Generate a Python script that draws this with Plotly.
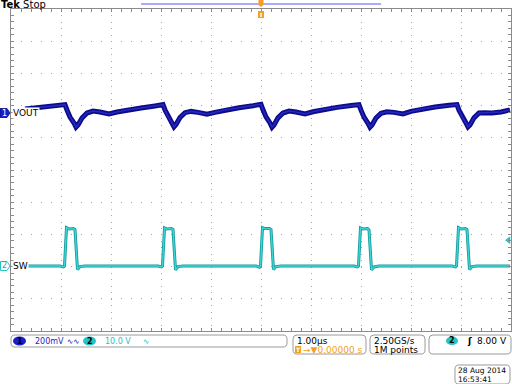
import plotly.graph_objects as go

W, H = 512, 384

# CH1  VOUT, 200 mV/div  (time in microseconds, value in mV)
vout_t_us = [
    -4.72, -4.40, -4.10,
    -3.92, -3.88, -3.82, -3.74, -3.70, -3.66, -3.58, -3.48, -3.36, -3.22, -3.04, -2.88, -2.68, -2.40, -2.12,
    -1.96, -1.92, -1.86, -1.78, -1.74, -1.70, -1.62, -1.52, -1.40, -1.26, -1.08, -0.92, -0.72, -0.44, -0.16,
    0.00, 0.04, 0.10, 0.18, 0.22, 0.26, 0.34, 0.44, 0.56, 0.70, 0.88, 1.04, 1.24, 1.52, 1.80,
    1.96, 2.00, 2.06, 2.14, 2.18, 2.22, 2.30, 2.40, 2.52, 2.66, 2.84, 3.00, 3.20, 3.48, 3.76,
    3.92, 3.96, 4.02, 4.10, 4.14, 4.18, 4.26, 4.36, 4.48, 4.62, 4.80, 4.98,
]
vout_mv = [
    25, 35, 44,
    52, 19, -25, -62, -88, -75, -31, 0, 12, 6, -6, 6, 19, 31, 44,
    52, 19, -22, -60, -86, -72, -28, 2, 10, 4, -8, 4, 19, 33, 45,
    54, 20, -24, -62, -88, -74, -30, 0, 12, 6, -6, 8, 22, 35, 46,
    52, 18, -26, -64, -88, -75, -31, -2, 8, 4, -6, 10, 24, 37, 48,
    52, 18, -24, -62, -86, -74, -30, 0, 2, 0, 6, 19,
]

# CH2  SW, 10 V/div (time in microseconds, value in V)
sw_t_us = [
    -4.72,
    -4.02, -3.95, -3.93, -3.89, -3.84, -3.75, -3.72, -3.67, -3.62, -3.52,
    -2.06, -1.99, -1.97, -1.93, -1.88, -1.79, -1.76, -1.71, -1.66, -1.56,
    -0.10, -0.03, -0.01, 0.03, 0.08, 0.17, 0.20, 0.25, 0.30, 0.40,
    1.86, 1.93, 1.95, 1.99, 2.04, 2.13, 2.16, 2.21, 2.26, 2.36,
    3.82, 3.89, 3.91, 3.95, 4.00, 4.09, 4.12, 4.17, 4.22, 4.32,
    4.98,
]
sw_v = [
    0.0,
    0.0, -0.3, 0.0, 11.9, 11.5, 11.6, 11.3, -1.1, -0.2, 0.0,
    0.0, -0.3, 0.0, 11.8, 11.5, 11.6, 11.3, -1.2, -0.2, 0.0,
    0.0, -0.4, 0.0, 11.9, 11.6, 11.6, 11.3, -1.1, -0.2, 0.0,
    0.0, -0.3, 0.0, 11.8, 11.5, 11.6, 11.2, -1.2, -0.3, 0.0,
    0.0, -0.3, 0.0, 11.9, 11.5, 11.6, 11.3, -1.1, -0.2, 0.0,
    0.0,
]

ch1_scale_mv = 200.0
ch2_scale_v = 10.0
ch1_offset_div = 1.77
ch2_offset_div = -2.98
trig_level_v = 8.0

ch1_label = "VOUT"
ch2_label = "SW"
ch1_status = "200mV"
ch2_status = "10.0 V"
timebase = "1.00µs"
trig_pos = "→▼0.00000 s"
sample_rate = "2.50GS/s"
record_len = "1M points"
trig_level_txt = "8.00 V"
date_txt = "28 Aug 2014"
time_txt = "16:53:41"

# ---------------- geometry ----------------
PX0, PX1, PY0, PY1 = 11, 511, 9, 331   # graticule box in pixels
x_range = [-5, 5]
y_range = [-5, 5]

def P(x, y):
    return f"{x / W:.5f},{1 - y / H:.5f}"

def xp(x):
    return x / W

def yp(y):
    return 1 - y / H

def div_to_px(d):
    return PY1 - (d - y_range[0]) / (y_range[1] - y_range[0]) * (PY1 - PY0)

def rrect(x0, y0, x1, y1, r):
    return (f"M{P(x0 + r, y0)} L{P(x1 - r, y0)} Q{P(x1, y0)} {P(x1, y0 + r)} "
            f"L{P(x1, y1 - r)} Q{P(x1, y1)} {P(x1 - r, y1)} L{P(x0 + r, y1)} "
            f"Q{P(x0, y1)} {P(x0, y1 - r)} L{P(x0, y0 + r)} Q{P(x0, y0)} {P(x0 + r, y0)} Z")

FONT = "DejaVu Sans"
GRID = "#a4a4a4"
FRAME = "#8a8a8a"
BLUE = "#1c1cc8"
CYAN = "#22c4c4"
ORANGE = "#f2a024"

fig = go.Figure()

vout_div = [ch1_offset_div + v / ch1_scale_mv for v in vout_mv]
sw_div = [ch2_offset_div + v / ch2_scale_v for v in sw_v]

fig.add_trace(go.Scatter(x=vout_t_us, y=vout_div, mode="lines",
                         line=dict(color="#0c0c8a", width=5), hoverinfo="skip"))
fig.add_trace(go.Scatter(x=vout_t_us, y=vout_div, mode="lines",
                         line=dict(color="#2626c0", width=1.6), hoverinfo="skip"))
fig.add_trace(go.Scatter(x=sw_t_us, y=sw_div, mode="lines",
                         line=dict(color="#129a9a", width=3.0), hoverinfo="skip"))
fig.add_trace(go.Scatter(x=sw_t_us, y=sw_div, mode="lines",
                         line=dict(color="#3cd4d4", width=1.4), hoverinfo="skip"))
# trigger level arrow on right edge
fig.add_trace(go.Scatter(x=[x_range[1] - 0.05], y=[ch2_offset_div + trig_level_v / ch2_scale_v],
                         mode="markers", marker=dict(symbol="triangle-left", size=7, color=CYAN),
                         hoverinfo="skip", cliponaxis=False))

common_x = dict(range=x_range, domain=[PX0 / W, PX1 / W], showticklabels=False, zeroline=False,
                fixedrange=True)
common_y = dict(range=y_range, domain=[yp(PY1), yp(PY0)], showticklabels=False, zeroline=False,
                fixedrange=True)

fig.update_layout(
    width=W, height=H, margin=dict(l=0, r=0, t=0, b=0),
    paper_bgcolor="white", plot_bgcolor="white", showlegend=False,
    xaxis=dict(**common_x, showgrid=True, gridcolor=GRID, griddash="1px,5.44px", gridwidth=1,
               dtick=1, tick0=0, showline=True, linecolor=FRAME, linewidth=1, mirror="allticks",
               ticks="inside", ticklen=3, tickcolor=FRAME,
               minor=dict(dtick=0.2, ticks="inside", ticklen=3, tickcolor=FRAME, showgrid=False)),
    yaxis=dict(**common_y, showgrid=True, gridcolor=GRID, griddash="1px,9px", gridwidth=1,
               dtick=1, tick0=0, showline=True, linecolor=FRAME, linewidth=1, mirror="allticks",
               ticks="inside", ticklen=3, tickcolor=FRAME,
               minor=dict(dtick=0.2, ticks="inside", ticklen=3, tickcolor=FRAME, showgrid=False)),
    xaxis2=dict(**common_x, overlaying="x", anchor="free", position=yp(div_to_px(0)),
                showgrid=False, showline=False, dtick=0.2, tick0=0, ticks="inside", ticklen=3,
                tickcolor=FRAME),
    xaxis3=dict(**common_x, overlaying="x", anchor="free", position=yp(div_to_px(0)),
                showgrid=False, showline=False, dtick=0.2, tick0=0, ticks="outside", ticklen=3,
                tickcolor=FRAME),
    yaxis2=dict(**common_y, overlaying="y", anchor="free", position=((PX0 + PX1) / 2) / W,
                showgrid=False, showline=False, dtick=0.2, tick0=0, ticks="inside", ticklen=3,
                tickcolor=FRAME),
    yaxis3=dict(**common_y, overlaying="y", anchor="free", position=((PX0 + PX1) / 2) / W,
                showgrid=False, showline=False, dtick=0.2, tick0=0, ticks="outside", ticklen=3,
                tickcolor=FRAME),
)

shapes = []
ann = []

def txt(x, y, s, color="black", size=9, anchor="left", bg=None, bold=False):
    ann.append(dict(x=xp(x), y=yp(y), xref="paper", yref="paper", text=(f"<b>{s}</b>" if bold else s),
                    showarrow=False, xanchor=anchor, yanchor="middle",
                    font=dict(family=FONT, size=size, color=color),
                    bgcolor=bg, borderpad=0))

# top status: record view bar and trigger position marker
shapes.append(dict(type="line", xref="paper", yref="paper", x0=xp(141), x1=xp(381), y0=yp(4), y1=yp(4),
                   line=dict(color="#8c8cff", width=1.5)))
cx = (PX0 + PX1) / 2
shapes.append(dict(type="path", xref="paper", yref="paper",
                   path=f"M{P(cx-2.5,0)} L{P(cx+2.5,0)} L{P(cx+2.5,5)} L{P(cx,7)} L{P(cx-2.5,5)} Z",
                   fillcolor=ORANGE, line=dict(width=0)))
shapes.append(dict(type="path", xref="paper", yref="paper",
                   path=f"M{P(cx-3,11)} L{P(cx+3,11)} L{P(cx+3,18)} L{P(cx-3,18)} Z",
                   fillcolor=ORANGE, line=dict(width=0)))
shapes.append(dict(type="line", xref="paper", yref="paper", x0=xp(cx), x1=xp(cx), y0=yp(13), y1=yp(17),
                   line=dict(color="white", width=1.5)))
txt(0, 4.5, "<b>Tek</b> Stop", size=10)

# channel ground markers + labels
y1m = div_to_px(ch1_offset_div)
shapes.append(dict(type="path", xref="paper", yref="paper",
                   path=f"M{P(0,y1m-4.5)} L{P(7,y1m-4.5)} L{P(10,y1m)} L{P(7,y1m+4.5)} L{P(0,y1m+4.5)} Z",
                   fillcolor=BLUE, line=dict(color="#0a0a80", width=0.8)))
txt(4.2, y1m, "1", color="white", size=8, anchor="center")
txt(12, y1m, ch1_label, size=9, bg="white")

y2m = div_to_px(ch2_offset_div)
shapes.append(dict(type="path", xref="paper", yref="paper",
                   path=f"M{P(0.5,y2m-4.5)} L{P(7,y2m-4.5)} L{P(10,y2m)} L{P(7,y2m+4.5)} L{P(0.5,y2m+4.5)} Z",
                   fillcolor="white", line=dict(color=CYAN, width=1)))
txt(4.5, y2m, "2", color="#1aa8a8", size=8, anchor="center")
txt(12, y2m, ch2_label, size=9, bg="white")

# bottom status boxes
for (x0, y0, x1, y1) in [(11, 335, 287, 347), (293, 335, 366, 354), (370, 335, 425, 354),
                         (429, 335, 511, 354), (455, 365, 510, 384)]:
    shapes.append(dict(type="path", xref="paper", yref="paper", path=rrect(x0, y0, x1, y1, 4),
                       fillcolor="white", line=dict(color="#9a9a9a", width=1)))

def badge(x0, x1, y0, y1, color, label):
    shapes.append(dict(type="circle", xref="paper", yref="paper", x0=xp(x0), x1=xp(x1), y0=yp(y1), y1=yp(y0),
                       fillcolor=color, line=dict(width=0)))
    txt((x0 + x1) / 2, (y0 + y1) / 2, label, color="black", size=8, anchor="center", bold=True)

badge(13, 26, 336.5, 345.5, BLUE, "1")
txt(34, 341, ch1_status, color=BLUE, size=8)
txt(66, 341, "∿∿", color=BLUE, size=7.5)
badge(83, 96, 336.5, 345.5, CYAN, "2")
txt(104, 341, ch2_status, color=CYAN, size=8)
txt(142, 341, "∿", color=CYAN, size=7.5)

txt(296, 340.5, timebase, size=9)
shapes.append(dict(type="rect", xref="paper", yref="paper", x0=xp(295), x1=xp(301), y0=yp(353), y1=yp(346),
                   fillcolor=ORANGE, line=dict(width=0)))
txt(298, 349.5, "T", color="white", size=6, anchor="center", bold=True)
txt(301.5, 349.5, trig_pos, color=ORANGE, size=9)

txt(373, 340.5, sample_rate, size=9)
txt(373, 349.5, record_len, size=9)

badge(446, 458, 336.5, 345, CYAN, "2")
txt(466, 341, "ʃ", size=9, bold=True)
txt(508, 341, trig_level_txt, size=9, anchor="right")

txt(457, 370, date_txt, size=7.5)
txt(457, 379, time_txt, size=7.5)

fig.update_layout(shapes=shapes, annotations=ann)
fig.write_html("out.html")
